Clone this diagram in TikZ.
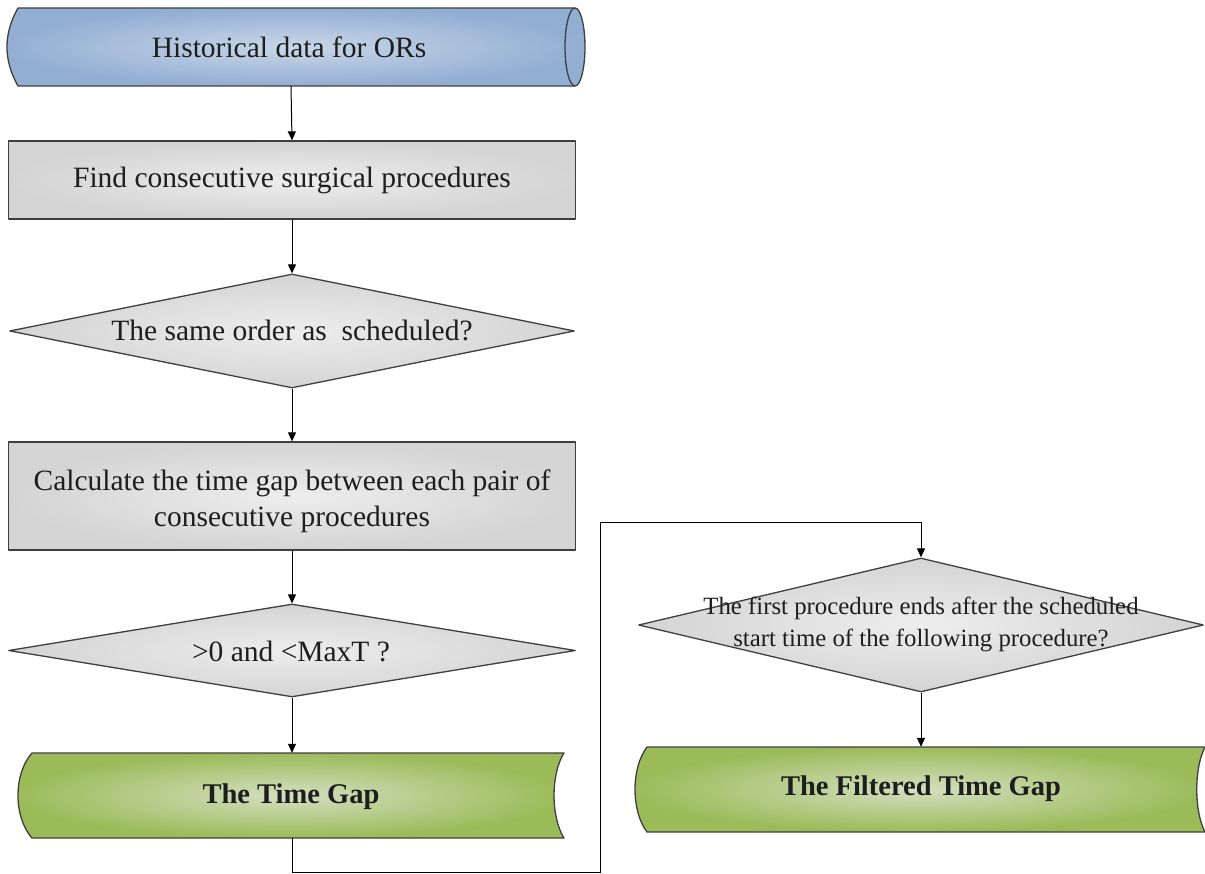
\documentclass[tikz,border=0pt]{standalone}
\usepackage{fontspec}
\setmainfont{Liberation Serif}
\usetikzlibrary{shapes.geometric,arrows.meta,calc}

\definecolor{edgegray}{HTML}{3F3F3F}
\definecolor{blueout}{HTML}{93AED3}
\definecolor{bluein}{HTML}{C9D7E8}
\definecolor{grayout}{HTML}{D4D4D4}
\definecolor{grayin}{HTML}{EDEDED}
\definecolor{greenout}{HTML}{9BBB59}
\definecolor{greenin}{HTML}{D3DFC0}
\definecolor{txt}{HTML}{1E1E1E}

\tikzset{
  x=1pt, y=-1pt,
  outline/.style={draw=edgegray, line width=1.3pt, line join=round},
  bluefill/.style={outline, inner color=bluein, outer color=blueout},
  grayfill/.style={outline, inner color=grayin, outer color=grayout},
  greenfill/.style={outline, inner color=greenin, outer color=greenout},
  procbox/.style={grayfill, rectangle, inner sep=0pt},
  decision/.style={grayfill, diamond, inner sep=0pt},
  label/.style={text=txt, align=center, inner sep=0pt, font=\fontsize{29.5}{36}\selectfont},
  boldlabel/.style={label, font=\bfseries\fontsize{28.5}{34}\selectfont},
  anchorbox/.style={rectangle, inner sep=0pt},
  flow/.style={draw=black, line width=1pt, -{Triangle[length=9pt,width=8pt]}}
}

\begin{document}
\begin{tikzpicture}
\useasboundingbox (0,0) rectangle (1205,874);

% stored data: historical records (blue)
\path[bluefill] (18,8) -- (575,8) arc[start angle=-90, end angle=90, x radius=10, y radius=39]
  -- (18,86) .. controls (3.3,60) and (3.3,34) .. (18,8) -- cycle;
\draw[outline] (575,8) arc[start angle=-90, end angle=-270, x radius=10, y radius=39];
\node[anchorbox, minimum width=560pt, minimum height=78pt] (hist) at (291,47) {};
\node[label] at (289,47) {Historical data for ORs};

% process: consecutive procedures
\node[procbox, minimum width=567pt, minimum height=78pt] (find) at (292,180) {};
\node[label] at (292,180) {Find consecutive surgical procedures};

% decision: order check
\node[decision, minimum width=565pt, minimum height=114pt] (order) at (292,331) {};
\node[label] at (292,330) {The same order as\ \ scheduled?};

% process: gap calculation
\node[procbox, minimum width=567pt, minimum height=108pt] (calc) at (292,496) {};
\node[label] at (292,501) {Calculate the time gap between each pair of\\consecutive procedures};

% decision: gap range
\node[decision, minimum width=567pt, minimum height=93pt] (range) at (292,650.5) {};
\node[label] at (291,651) {>0 and <MaxT ?};

% stored data: time gap (green)
\path[greenfill] (32,753) -- (564,753) .. controls (550.7,774) and (550.7,817) .. (564,838)
  -- (32,838) .. controls (13.3,817) and (13.3,774) .. (32,753) -- cycle;
\node[anchorbox, minimum width=530pt, minimum height=85pt] (gap) at (292,795.5) {};
\node[boldlabel] at (291,797) {The Time Gap};

% decision: overrun check
\node[decision, minimum width=565pt, minimum height=134pt] (over) at (921,625) {};
\node[label, font=\fontsize{24.8}{32}\selectfont] at (921,624) {The first procedure ends after the scheduled\\start time of the following procedure?};

% stored data: filtered time gap (green)
\path[greenfill] (647,747) -- (1205,747) .. controls (1194,768) and (1194,811) .. (1205,832)
  -- (647,832) .. controls (631,811) and (631,768) .. (647,747) -- cycle;
\node[anchorbox, minimum width=540pt, minimum height=85pt] (filt) at (921,789.5) {};
\node[boldlabel] at (921,789) {The Filtered Time Gap};

% connectors
\coordinate (low) at (600,872);
\coordinate (high) at (600,522);
\draw[flow] (hist.south) -- (find.north);
\draw[flow] (find.south) -- (order.north);
\draw[flow] (order.south) -- (calc.north);
\draw[flow] (calc.south) -- (range.north);
\draw[flow] (range.south) -- (gap.north);
\draw[flow] (gap.south) |- (low) -- (high) -| (over.north);
\draw[flow] (over.south) -- (filt.north);
\end{tikzpicture}
\end{document}
